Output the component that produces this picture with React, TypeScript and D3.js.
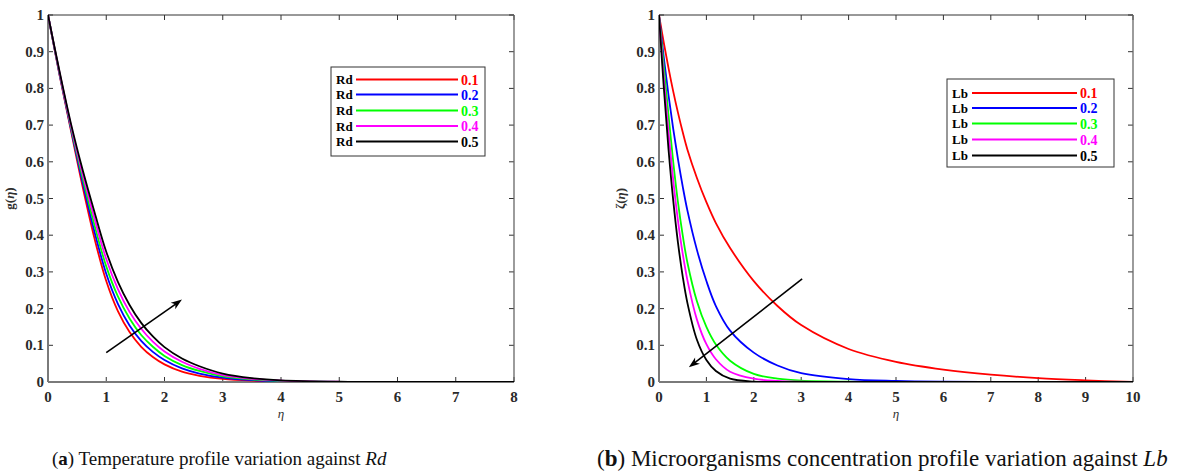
import React from 'react';
import * as d3 from 'd3';

const W = 1184;
const H = 474;

const seriesColors = ['#ff0000', '#0000ff', '#00ff00', '#ff00ff', '#000000'];
const paramValues = ['0.1', '0.2', '0.3', '0.4', '0.5'];
const yTicks = [0, 0.1, 0.2, 0.3, 0.4, 0.5, 0.6, 0.7, 0.8, 0.9, 1];
const xTicksA = [0, 1, 2, 3, 4, 5, 6, 7, 8];
const xTicksB = [0, 1, 2, 3, 4, 5, 6, 7, 8, 9, 10];

// Panel (a): temperature profile g(eta) for Rd
const etaA = [0, 0.2, 0.4, 0.6, 0.8, 1.0, 1.2, 1.4, 1.6, 1.8, 2.0, 2.3, 2.6, 3.0, 3.5, 4.0, 5.0, 6.0, 7.0, 8.0];
const gRd01 = [1, 0.835, 0.68, 0.528, 0.39, 0.275, 0.193, 0.136, 0.096, 0.068, 0.048, 0.028, 0.017, 0.0083, 0.0035, 0.0015, 0.0002, 0, 0, 0];
const gRd02 = [1, 0.837, 0.685, 0.54, 0.408, 0.295, 0.213, 0.154, 0.112, 0.082, 0.06, 0.037, 0.023, 0.012, 0.005, 0.0022, 0.0003, 0, 0, 0];
const gRd03 = [1, 0.84, 0.69, 0.552, 0.426, 0.315, 0.233, 0.173, 0.128, 0.096, 0.071, 0.046, 0.03, 0.0155, 0.007, 0.003, 0.0005, 0, 0, 0];
const gRd04 = [1, 0.842, 0.695, 0.563, 0.444, 0.335, 0.253, 0.191, 0.145, 0.11, 0.083, 0.055, 0.036, 0.019, 0.0088, 0.0037, 0.0006, 0.0001, 0, 0];
const gRd05 = [1, 0.845, 0.7, 0.575, 0.462, 0.355, 0.273, 0.21, 0.161, 0.124, 0.095, 0.064, 0.043, 0.023, 0.0105, 0.0045, 0.0008, 0.0001, 0, 0];

// Panel (b): microorganisms concentration zeta(eta) for Lb
const etaB = [0, 0.1, 0.2, 0.3, 0.4, 0.5, 0.6, 0.8, 1.0, 1.2, 1.5, 2.0, 2.5, 3.0, 4.0, 5.0, 6.0, 7.0, 8.0, 9.0, 10.0];
const zLb01 = [1, 0.925, 0.856, 0.792, 0.734, 0.681, 0.633, 0.556, 0.49, 0.433, 0.365, 0.275, 0.207, 0.155, 0.09, 0.055, 0.034, 0.02, 0.0105, 0.0045, 0];
const zLb02 = [1, 0.885, 0.782, 0.69, 0.607, 0.533, 0.467, 0.36, 0.275, 0.207, 0.14, 0.08, 0.045, 0.024, 0.008, 0.003, 0.001, 0.0004, 0.0002, 0.0001, 0];
const zLb03 = [1, 0.862, 0.728, 0.6, 0.49, 0.4, 0.325, 0.22, 0.15, 0.102, 0.058, 0.022, 0.009, 0.0035, 0.0008, 0.0002, 0, 0, 0, 0, 0];
const zLb04 = [1, 0.83, 0.68, 0.55, 0.44, 0.35, 0.277, 0.17, 0.103, 0.062, 0.028, 0.009, 0.003, 0.001, 0.0002, 0, 0, 0, 0, 0, 0];
const zLb05 = [1, 0.805, 0.635, 0.495, 0.38, 0.288, 0.215, 0.115, 0.06, 0.03, 0.009, 0.0012, 0.0002, 0, 0, 0, 0, 0, 0, 0, 0];

// Arrows (data coordinates: [eta, value])
const arrowA = [[1.0, 0.08], [2.3, 0.2245]];
const arrowB = [[3.02, 0.281], [0.63, 0.04]];

const TICK_FONT = '"Liberation Serif", "Times New Roman", serif';

type PanelProps = {
  id: string;
  x0: number; x1: number; y0: number; y1: number;
  xMax: number; xTicks: number[];
  eta: number[]; series: number[][];
  arrow: number[][];
  legend: { x: number; y: number; w: number; h: number; rows: number[]; lineX0: number; lineX1: number; valX: number; label: string };
  yLabel: string; yLabelX: number;
};

function Panel(p: PanelProps) {
  const xs = d3.scaleLinear().domain([0, p.xMax]).range([p.x0, p.x1]);
  const ys = d3.scaleLinear().domain([0, 1]).range([p.y1, p.y0]);
  const line = d3.line<[number, number]>().x(d => xs(d[0])).y(d => ys(Math.max(0, d[1]))).curve(d3.curveCatmullRom.alpha(0.5));
  const tickLen = 5;
  const axisCol = '#7a7a7a';
  const ax0 = xs(p.arrow[0][0]), ay0 = ys(p.arrow[0][1]);
  const ax1 = xs(p.arrow[1][0]), ay1 = ys(p.arrow[1][1]);
  const ang = Math.atan2(ay1 - ay0, ax1 - ax0);
  const hl = 11, hw = 4;
  const bx = ax1 - hl * Math.cos(ang), by = ay1 - hl * Math.sin(ang);
  const head = [
    [ax1, ay1],
    [bx + hw * Math.sin(ang), by - hw * Math.cos(ang)],
    [ax1 - 8 * Math.cos(ang), ay1 - 8 * Math.sin(ang)],
    [bx - hw * Math.sin(ang), by + hw * Math.cos(ang)],
  ];
  const lg = p.legend;
  return (
    <g>
      <defs>
        <clipPath id={`clip-${p.id}`}>
          <rect x={p.x0} y={p.y0 - 1} width={p.x1 - p.x0} height={p.y1 - p.y0 + 1} />
        </clipPath>
      </defs>
      {p.xTicks.map(t => (
        <g key={'xt' + t}>
          <line x1={xs(t)} x2={xs(t)} y1={p.y1} y2={p.y1 - tickLen} stroke="#333" strokeWidth={1} />
          <line x1={xs(t)} x2={xs(t)} y1={p.y0} y2={p.y0 + tickLen} stroke="#333" strokeWidth={1} />
          <text x={xs(t)} y={p.y1 + 20} textAnchor="middle" fontFamily={TICK_FONT} fontWeight="bold" fontSize={15} fill="#2a2a2a">{t}</text>
        </g>
      ))}
      {yTicks.map(t => (
        <g key={'yt' + t}>
          <line x1={p.x0} x2={p.x0 + tickLen} y1={ys(t)} y2={ys(t)} stroke="#333" strokeWidth={1} />
          <line x1={p.x1} x2={p.x1 - tickLen} y1={ys(t)} y2={ys(t)} stroke="#333" strokeWidth={1} />
          <text x={p.x0 - 4} y={ys(t) + 5} textAnchor="end" fontFamily={TICK_FONT} fontWeight="bold" fontSize={15} fill="#2a2a2a">{t === 0 ? '0' : t === 1 ? '1' : t.toFixed(1)}</text>
        </g>
      ))}
      <line x1={p.x0} x2={p.x1} y1={p.y0} y2={p.y0} stroke="#333" strokeWidth={1} />
      <line x1={p.x1} x2={p.x1} y1={p.y0} y2={p.y1} stroke="#666" strokeWidth={1.3} />
      <line x1={p.x0} x2={p.x1} y1={p.y1} y2={p.y1} stroke={axisCol} strokeWidth={2} />
      <line x1={p.x0} x2={p.x0} y1={p.y0} y2={p.y1} stroke={axisCol} strokeWidth={2} />
      <g clipPath={`url(#clip-${p.id})`}>
        {p.series.map((s, i) => (
          <path key={'s' + i} d={line(p.eta.map((e, j) => [e, s[j]] as [number, number])) || ''} fill="none" stroke={seriesColors[i]} strokeWidth={1.8} />
        ))}
      </g>
      <line x1={ax0} y1={ay0} x2={ax1 - 6 * Math.cos(ang)} y2={ay1 - 6 * Math.sin(ang)} stroke="#000" strokeWidth={1.6} />
      <polygon points={head.map(q => q.join(',')).join(' ')} fill="#000" />
      <rect x={lg.x} y={lg.y} width={lg.w} height={lg.h} fill="#fff" stroke="#333" strokeWidth={1} />
      {lg.rows.map((ry, i) => (
        <g key={'lg' + i}>
          <text x={lg.x + 5} y={ry + 4.5} fontFamily={TICK_FONT} fontWeight="bold" fontSize={13} fill="#000">{lg.label}</text>
          <line x1={lg.lineX0} x2={lg.lineX1} y1={ry} y2={ry} stroke={seriesColors[i]} strokeWidth={1.8} />
          <text x={lg.valX} y={ry + 5} fontFamily={TICK_FONT} fontWeight="bold" fontSize={14} fill={seriesColors[i]}>{paramValues[i]}</text>
        </g>
      ))}
      <text x={(p.x0 + p.x1) / 2} y={p.y1 + 36} textAnchor="middle" fontFamily={TICK_FONT} fontStyle="italic" fontSize={13} fill="#303030">η</text>
      <text transform={`translate(${p.yLabelX},${(p.y0 + p.y1) / 2}) rotate(-90)`} textAnchor="middle" fontFamily={TICK_FONT} fontWeight="bold" fontSize={13} fill="#303030">
        {p.yLabel}(<tspan fontStyle="italic">η</tspan>)
      </text>
    </g>
  );
}

export default function App() {
  return (
    <svg width={W} height={H} viewBox={`0 0 ${W} ${H}`} style={{ position: 'absolute', left: 0, top: 0, background: '#fff' }}>
      <rect x={0} y={0} width={W} height={H} fill="#fff" />
      <Panel
        id="a" x0={48} x1={514} y0={15} y1={382} xMax={8} xTicks={xTicksA}
        eta={etaA} series={[gRd01, gRd02, gRd03, gRd04, gRd05]} arrow={arrowA}
        legend={{ x: 331, y: 67, w: 154, h: 89, rows: [79.5, 94.5, 110.5, 126, 141.5], lineX0: 356, lineX1: 458, valX: 461, label: 'Rd' }}
        yLabel="g" yLabelX={14}
      />
      <Panel
        id="b" x0={659} x1={1133} y0={15} y1={382} xMax={10} xTicks={xTicksB}
        eta={etaB} series={[zLb01, zLb02, zLb03, zLb04, zLb05]} arrow={arrowB}
        legend={{ x: 947, y: 79, w: 167, h: 88, rows: [93, 108, 123.5, 139.5, 155.5], lineX0: 972, lineX1: 1077, valX: 1080, label: 'Lb' }}
        yLabel="ζ" yLabelX={625}
      />
      <text x={52} y={465} fontFamily={TICK_FONT} fontSize={19} fill="#111">
        (<tspan fontWeight="bold">a</tspan>) Temperature profile variation against <tspan fontStyle="italic">Rd</tspan>
      </text>
      <text x={597} y={466} fontFamily={TICK_FONT} fontSize={23} fill="#111">
        (<tspan fontWeight="bold">b</tspan>) Microorganisms concentration profile variation against <tspan fontStyle="italic">Lb</tspan>
      </text>
    </svg>
  );
}
